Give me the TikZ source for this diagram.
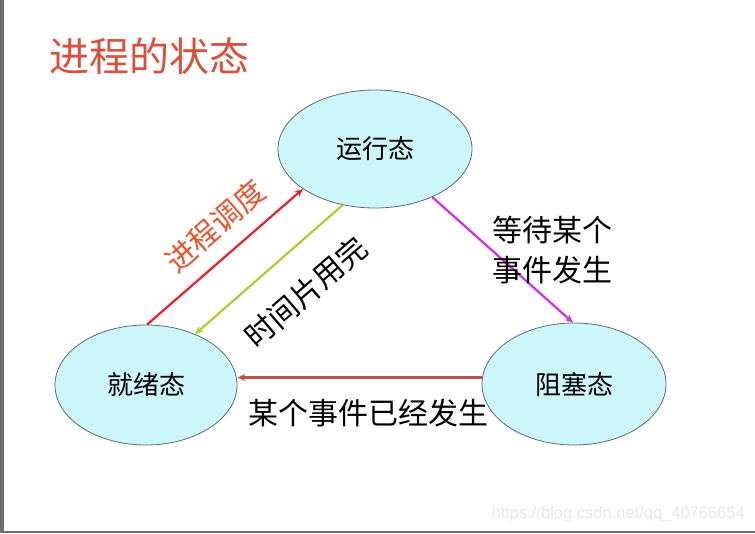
\documentclass[tikz,border=0pt]{standalone}
\usepackage{fontspec}
\setmainfont{Liberation Sans}
\newfontfamily\cjk{Noto Sans CJK SC}
\usetikzlibrary{shapes.geometric,arrows.meta,calc}
\definecolor{titlered}{HTML}{D9503B}
\definecolor{statefill}{HTML}{CCF6FA}
\definecolor{stateline}{HTML}{5E6B6B}
\definecolor{arrred}{HTML}{E8202A}
\definecolor{arrgreen}{HTML}{A8D030}
\definecolor{arrmag}{HTML}{D62EE6}
\definecolor{arrdark}{HTML}{C0504D}
\definecolor{labred}{HTML}{E8552F}
\definecolor{framegray}{HTML}{6E6E6E}
\tikzset{
  state/.style={ellipse, draw=stateline, line width=0.8pt, fill=statefill, inner sep=0pt, font=\cjk\fontsize{26}{30}\selectfont},
  conn/.style={line width=2.2pt, -{Stealth[length=8pt,width=7pt]}},
  lab/.style={font=\cjk\fontsize{30}{40}\selectfont, inner sep=0pt}
}
\begin{document}
\begin{tikzpicture}[x=1pt,y=-1pt]
\useasboundingbox (0,0) rectangle (755,533);
\fill[white] (0,0) rectangle (755,533);
% frame
\fill[framegray] (0,0) rectangle (4,533);
\fill[framegray] (0,531) rectangle (755,533);
% title
\node[anchor=west, text=titlered, font=\cjk\fontsize{40}{44}\selectfont, inner sep=0pt] (title) at (49,56) {进程的状态};
% states
\node[state, minimum width=194pt, minimum height=118pt] (run) at (375,149) {运行态};
\node[state, minimum width=182pt, minimum height=120pt] (ready) at (146,385) {就绪态};
\node[state, minimum width=184pt, minimum height=122pt] (blocked) at (574,384) {阻塞态};
% connectors
\draw[conn, arrred] (ready.89) -- (run.209);
\draw[conn, arrgreen] (run.240) -- (ready.46);
\draw[conn, arrmag] (run.-40) -- (blocked.91);
\draw[conn, arrdark, line width=2.6pt] (blocked.176) -- (blocked.176 -| ready.east);
% labels
\node[lab, text=labred, rotate=41] (l1) at (215,226) {进程调度};
\node[lab, rotate=41] (l2) at (306,292) {时间片用完};
\node[lab, align=center] (l3) at (552,250) {等待某个\\事件发生};
\node[lab] (l4) at (368,413) {某个事件已经发生};
% watermark
\node[anchor=east, text=black!9, font=\fontsize{16.5}{18}\selectfont, inner sep=0pt] (wm) at (745,514) {https://blog.csdn.net/qq\_40766654};
\end{tikzpicture}
\end{document}
